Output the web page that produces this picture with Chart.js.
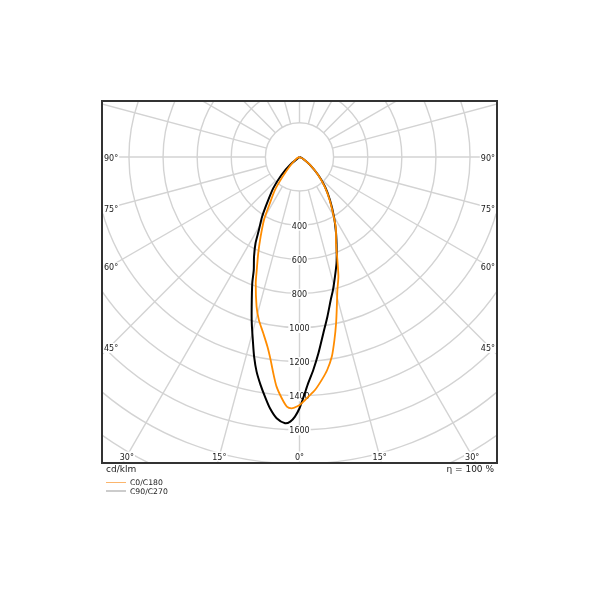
<!DOCTYPE html>
<html lang="en">
<head>
  <meta charset="UTF-8" />
  <title>Polar intensity diagram</title>
  <script src="https://cdn.jsdelivr.net/npm/chart.js"></script>
  <style>
    html, body { margin: 0; padding: 0; background: #fff; }
    canvas { display: block; }
  </style>
</head>
<body>
  <canvas id="polarChart" width="600" height="600"></canvas>

  <script>
    // gamma angle (deg, 0 = straight down, negative = left half) and cd/klm
    const c0Gamma = [-90, -60, -46.5, -40.5, -36.6, -32.2, -29.4, -26, -23.2, -20.7, -19.1, -16, -14, -11.6, -9.6, -8.1, -6.9, -5.7, -4.2, -2.9, -1.8, -0.6,
                     0.5, 2.1, 3.8, 5.7, 7.4, 9.2, 10.8, 12.4, 14, 15.9, 18, 20.2, 22.9, 27, 30, 35, 40, 46, 53, 62, 90];
    const c0Int = [0, 20, 77, 152, 241, 333, 424, 520, 614, 709, 784, 913, 985, 1056, 1128, 1202, 1278, 1354, 1419, 1466, 1475, 1464,
                   1445, 1407, 1370, 1314, 1260, 1186, 1093, 999, 905, 811, 738, 643, 550, 470, 400, 308, 232, 152, 76, 25, 0];

    const c90Gamma = [-90, -50, -45, -40, -35, -32, -29, -27, -24.5, -22, -20.5, -17.7, -16, -14.3, -12.8, -11.3, -9.7, -8.2, -6.7, -5, -3.1, -2, -1,
                      0, 1, 2.2, 3.7, 5.5, 7.7, 9.9, 12.3, 14.1, 16.5, 19.2, 21.8, 25.6, 30, 35.3, 40.6, 46, 53, 62, 90];
    const c90Int = [0, 73, 148, 239, 333, 414, 492, 568, 643, 716, 791, 922, 1015, 1108, 1201, 1284, 1356, 1420, 1484, 1538, 1564, 1553, 1523,
                    1474, 1406, 1328, 1252, 1157, 1043, 951, 859, 805, 732, 660, 587, 496, 404, 309, 230, 153, 77, 25, 0];

    const seriesNames = ['C0/C180', 'C90/C270'];
    const rings = [200, 400, 600, 800, 1000, 1200, 1400, 1600, 1800, 2000, 2200];
    const ringLabels = [400, 600, 800, 1000, 1200, 1400, 1600];
    const angleTicks = [0, 15, 30, 45, 60, 75, 90];
    const unitText = 'cd/klm';
    const etaText = 'η = 100 %';

    const FONT = '"DejaVu Sans", sans-serif';

    function toXY(gammas, values) {
      return gammas.map((g, i) => {
        const r = g * Math.PI / 180;
        return { x: values[i] * Math.sin(r), y: -values[i] * Math.cos(r) };
      });
    }

    // text with a small white box behind it (grid lines stop at the labels)
    function labelBox(ctx, text, x, y, align) {
      const w = ctx.measureText(text).width;
      let left = x;
      if (align === 'center') left = x - w / 2;
      if (align === 'right') left = x - w;
      ctx.fillStyle = '#fff';
      ctx.fillRect(left - 1, y - 4.5, w + 2, 10);
      ctx.fillStyle = '#1a1a1a';
      ctx.textAlign = align;
      ctx.fillText(text, x, y + 1.5);
    }

    const polarGrid = {
      id: 'polarGrid',
      beforeDatasetsDraw(chart) {
        const { ctx, chartArea: a, scales: { x, y } } = chart;
        const cx = x.getPixelForValue(0);
        const cy = y.getPixelForValue(0);
        const px = v => x.getPixelForValue(v) - cx;

        ctx.save();
        ctx.beginPath();
        ctx.rect(a.left, a.top, a.right - a.left, a.bottom - a.top);
        ctx.clip();

        ctx.strokeStyle = '#d3d3d3';
        ctx.lineWidth = 1.4;
        // spokes every 15 deg, starting at the first ring
        for (let g = 0; g < 360; g += 15) {
          const r = g * Math.PI / 180;
          const s = Math.sin(r), c = Math.cos(r);
          ctx.beginPath();
          ctx.moveTo(cx + px(rings[0]) * s, cy + px(rings[0]) * c);
          ctx.lineTo(cx + 800 * s, cy + 800 * c);
          ctx.stroke();
        }
        rings.forEach(v => {
          ctx.beginPath();
          ctx.arc(cx, cy, px(v), 0, Math.PI * 2);
          ctx.stroke();
        });

        ctx.font = '8px ' + FONT;
        ctx.textBaseline = 'middle';
        ringLabels.forEach(v => labelBox(ctx, String(v), cx, cy + px(v), 'center'));

        const inset = 7;
        angleTicks.forEach(g => {
          const r = g * Math.PI / 180;
          const s = Math.sin(r), c = Math.cos(r);
          [1, -1].forEach(side => {
            if (g === 0 && side === -1) return;
            const edgeX = side > 0 ? a.right - inset : a.left + inset;
            const tSide = s > 1e-6 ? Math.abs(edgeX - cx) / s : Infinity;
            const tBottom = c > 1e-6 ? (a.bottom - inset - cy) / c : Infinity;
            const txt = g + '°';
            if (tSide < tBottom) {
              const ly = cy + tSide * c;
              if (side > 0) labelBox(ctx, txt, a.right - 2, ly, 'right');
              else labelBox(ctx, txt, a.left + 2, ly, 'left');
            } else {
              labelBox(ctx, txt, cx + side * tBottom * s, a.bottom - inset, 'center');
            }
          });
        });
        ctx.restore();
      },
      afterDraw(chart) {
        const { ctx, chartArea: a } = chart;
        ctx.save();
        ctx.strokeStyle = '#333';
        ctx.lineWidth = 2;
        ctx.strokeRect(a.left, a.top, a.right - a.left, a.bottom - a.top);

        ctx.fillStyle = '#1a1a1a';
        ctx.textBaseline = 'middle';
        ctx.font = '9px ' + FONT;
        ctx.textAlign = 'left';
        ctx.fillText(unitText, a.left + 4, a.bottom + 7);
        ctx.textAlign = 'right';
        ctx.fillText(etaText, a.right - 3, a.bottom + 7);

        // legend
        const legendColors = ['#fbb56c', '#999'];
        ctx.font = '7.7px ' + FONT;
        ctx.textAlign = 'left';
        seriesNames.forEach((name, i) => {
          const ly = a.bottom + 19.5 + i * 8.5;
          ctx.strokeStyle = legendColors[i];
          ctx.lineWidth = 1;
          ctx.beginPath();
          ctx.moveTo(a.left + 4, ly);
          ctx.lineTo(a.left + 24, ly);
          ctx.stroke();
          ctx.fillStyle = '#1a1a1a';
          ctx.fillText(name, a.left + 28, ly + 1);
        });
        ctx.restore();
      }
    };

    new Chart(document.getElementById('polarChart'), {
      type: 'scatter',
      data: {
        datasets: [
          { label: seriesNames[0], data: toXY(c0Gamma, c0Int), showLine: true, borderColor: '#ff8c00',
            borderWidth: 1.8, pointRadius: 0, tension: 0.25 },
          { label: seriesNames[1], data: toXY(c90Gamma, c90Int), showLine: true, borderColor: '#000',
            borderWidth: 2, pointRadius: 0, tension: 0.25 }
        ]
      },
      options: {
        responsive: false,
        animation: false,
        layout: { padding: { left: 102, top: 101, right: 103, bottom: 137 } },
        plugins: { legend: { display: false }, tooltip: { enabled: false } },
        scales: {
          x: { type: 'linear', min: -1158, max: 1158, display: false },
          y: { type: 'linear', min: -1795, max: 328, display: false }
        }
      },
      plugins: [polarGrid]
    });
  </script>
</body>
</html>
